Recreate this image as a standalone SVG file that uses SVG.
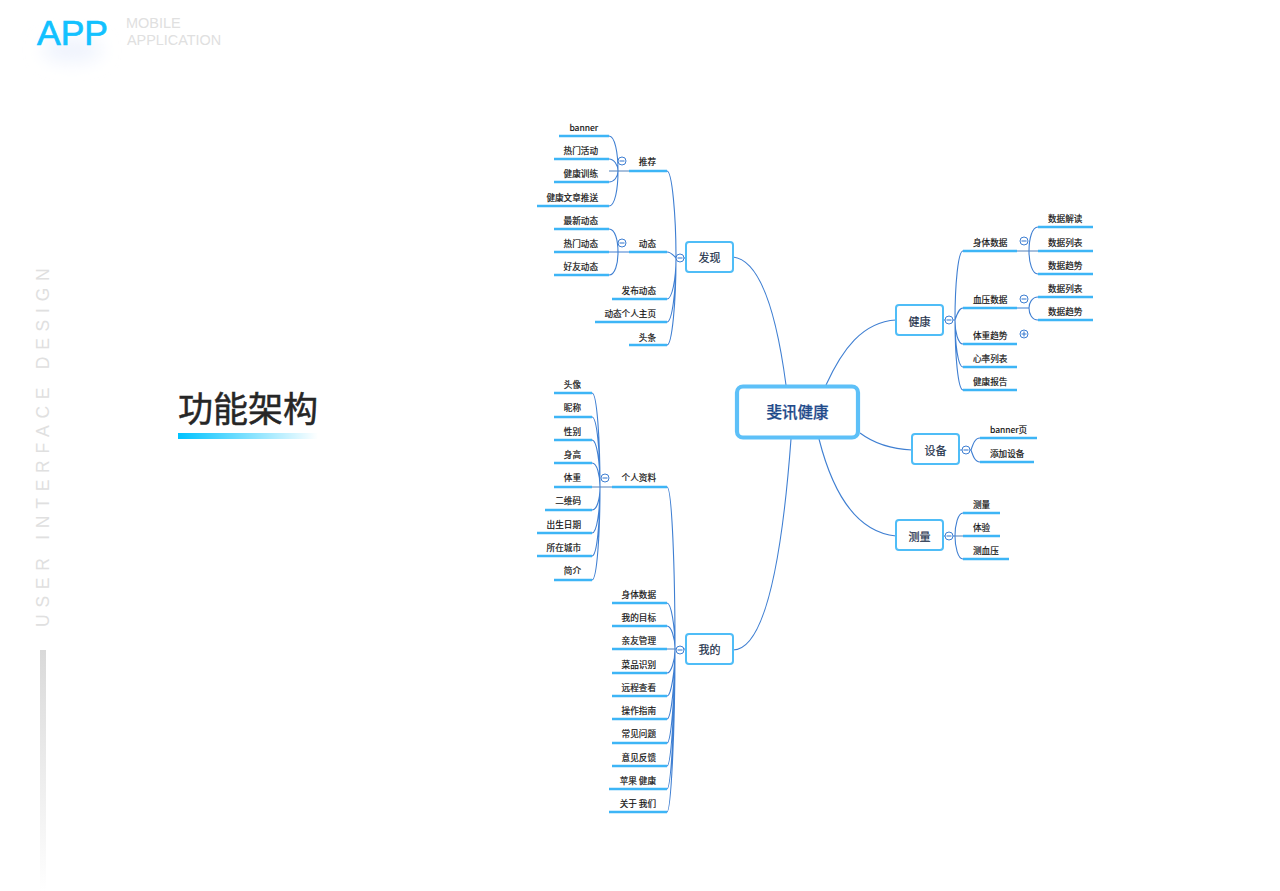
<svg xmlns="http://www.w3.org/2000/svg" width="1280" height="891" viewBox="0 0 1280 891">
<style>
text{font-family:"Noto Sans CJK SC","Noto Sans",sans-serif}
.l text{font-size:8.6px;fill:#111;stroke:#111;stroke-width:.18;transform:translateY(.2px)}
.e{text-anchor:end}
.u{stroke:#3db5f6;stroke-width:2.300;fill:none}
.c{stroke:#3f7fd2;stroke-width:1.100;fill:none}
.g{stroke:#a7bfdc;stroke-width:2;fill:none}
.t{stroke:#3f7fd2;stroke-width:1;fill:#fff}
.n{fill:#fff;stroke:#4fbdf7;stroke-width:2}
.nt{font-size:11px;fill:#1c2f4a;stroke:#1c2f4a;stroke-width:.2;text-anchor:middle}
.en{font-family:"Liberation Sans",sans-serif;fill:#e0e0e0}
</style>
<defs>
<linearGradient id="tb"><stop offset="0" stop-color="#00c3ff"/><stop offset="1" stop-color="#00c3ff" stop-opacity="0"/></linearGradient>
<linearGradient id="vb" x1="0" y1="0" x2="0" y2="1"><stop offset="0" stop-color="#d9d9d9"/><stop offset="1" stop-color="#fff"/></linearGradient>
<filter id="bl" x="-60%" y="-80%" width="220%" height="260%"><feGaussianBlur stdDeviation="9"/></filter>
</defs>
<g id="header">
<ellipse cx="72" cy="50" rx="30" ry="12" fill="#eef3fd" filter="url(#bl)"/>
<text x="37" y="45" style="font-family:'Liberation Sans',sans-serif;font-size:35.500px;fill:#12c1ff;stroke:#12c1ff;stroke-width:.7">APP</text>
<text class="en" x="126" y="28" font-size="14.500">MOBILE</text>
<text class="en" x="127" y="45" font-size="14.400">APPLICATION</text>
</g>
<g id="sidebar">
<text class="en" transform="translate(49,627) rotate(-90)" font-size="17.500" letter-spacing="6.750">USER INTERFACE DESIGN</text>
<rect x="40" y="650" width="6" height="241" fill="url(#vb)"/>
</g>
<g id="title">
<text x="178" y="422" style="font-size:35px;fill:#262626;stroke:#262626;stroke-width:.5">功能架构</text>
<rect x="178" y="433" width="140" height="6" fill="url(#tb)"/>
</g>
<g id="connectors">
<path class="c" d="M733 257C760 260 776 310 786 385"/>
<path class="c" d="M896 320C862 322 842 350 826 385"/>
<path class="c" d="M912 450C890 449 872 442 860 433"/>
<path class="c" d="M896 536C855 532 832 490 819 439"/>
<path class="c" d="M733 650C765 650 782 560 791 439"/>
<path class="g" d="M609 171H629M1017 251H1038M591 487H612M655 649H675M955 536H963"/>
<path class="c" d="M609 136C615 136 618 153 618 171M609 159C614 159 618 165 618 171M609 182C614 182 618 177 618 171M609 206C615 206 618 189 618 171"/>
<path class="c" d="M609 229C615 229 618 240 618 252M609 252H629M609 275C615 275 618 264 618 252"/>
<path class="c" d="M667 171C672 171 676 215 676 258M667 252C671 252 673 255 676 258M667 299C672 299 676 280 676 258M667 322C672 322 676 292 676 258M667 345C672 345 676 303 676 258"/>
<path class="c" d="M592 393C597 393 600 440 600 487M592 417C597 417 600 452 600 487M592 440C597 440 600 463 600 487M592 463C597 463 600 475 600 487M592 510C597 510 600 499 600 487M592 533C597 533 600 510 600 487M592 556C597 556 600 522 600 487M592 580C597 580 600 533 600 487"/>
<path class="c" d="M667 487C672 487 675 570 675 649M667 603C671 603 675 625 675 649M667 626C671 626 675 637 675 649M667 673C671 673 675 661 675 649M667 696C671 696 675 672 675 649M667 719C671 719 675 684 675 649M667 743C671 743 675 696 675 649M667 766C671 766 675 707 675 649M667 789C671 789 675 719 675 649M667 812C671 812 675 730 675 649"/>
<path class="c" d="M963 251C958 251 955 285 955 320M963 308C959 308 957 314 955 320M963 344C958 344 955 332 955 320M963 367C958 367 955 344 955 320M963 390C958 390 955 355 955 320"/>
<path class="c" d="M1038 227C1032 227 1029 239 1029 251M1038 274C1032 274 1029 262 1029 251M1038 297C1032 297 1029 303 1029 308M1038 320C1032 320 1029 314 1029 308M1017 308H1029"/>
<path class="c" d="M980 438C975 438 973 444 971 450M980 462C975 462 973 456 971 450"/>
<path class="c" d="M963 513C958 513 955 525 955 536M963 559C958 559 955 547 955 536"/>
<path class="c" d="M943 320H955M959 450H971M943 536H955M676 258H686M675 649H685"/>
</g>
<g id="root"><rect x="737" y="386.500" width="121" height="51" rx="6" fill="#fff" stroke="#5dc0f8" stroke-width="4.200"/><text x="797.500" y="418" style="font-size:15.500px;fill:#1f4a8a;stroke:#1f4a8a;stroke-width:.25;text-anchor:middle;font-weight:500">斐讯健康</text></g>
<g id="n-faxian"><rect class="n" x="686" y="242" width="47" height="30" rx="3"/><text class="nt" x="709.500" y="262">发现</text><circle class="t" cx="680" cy="258" r="4"/><path class="c" d="M677.500 258H682.500"/></g>
<g id="n-wode"><rect class="n" x="686" y="634" width="47" height="30" rx="3"/><text class="nt" x="709.500" y="654">我的</text><circle class="t" cx="680" cy="650" r="4"/><path class="c" d="M677.500 650H682.500"/></g>
<g id="n-jiankang"><rect class="n" x="896" y="305" width="47" height="30" rx="3"/><text class="nt" x="919.500" y="326">健康</text><circle class="t" cx="949" cy="320" r="4"/><path class="c" d="M946.500 320H951.500"/></g>
<g id="n-shebei"><rect class="n" x="912" y="434" width="47" height="30" rx="3"/><text class="nt" x="935.500" y="455">设备</text><circle class="t" cx="966" cy="450" r="4"/><path class="c" d="M963.500 450H968.500"/></g>
<g id="n-celiang"><rect class="n" x="896" y="520" width="47" height="30" rx="3"/><text class="nt" x="919.500" y="541">测量</text><circle class="t" cx="949" cy="536" r="4"/><path class="c" d="M946.500 536H951.500"/></g>
<g id="n-tuijian" class="l"><path class="u" d="M629 171H667"/><text class="e" x="656" y="165">推荐</text><circle class="t" cx="622" cy="161" r="4"/><path class="c" d="M619.500 161H624.500"/></g>
<g id="n-dongtai" class="l"><path class="u" d="M629 252H667"/><text class="e" x="656" y="247">动态</text><circle class="t" cx="622" cy="243" r="4"/><path class="c" d="M619.500 243H624.500"/></g>
<g id="n-fabu" class="l"><path class="u" d="M612 299H667"/><text class="e" x="656" y="294">发布动态</text></g>
<g id="n-zhuye" class="l"><path class="u" d="M595 322H667"/><text class="e" x="656" y="317">动态个人主页</text></g>
<g id="n-toutiao" class="l"><path class="u" d="M629 345H667"/><text class="e" x="656" y="341">头条</text></g>
<g id="n-banner" class="l"><path class="u" d="M559 136H609"/><text class="e" x="598" y="131">banner</text></g>
<g id="n-rmhd" class="l"><path class="u" d="M554 159H609"/><text class="e" x="598" y="154">热门活动</text></g>
<g id="n-jkxl" class="l"><path class="u" d="M554 182H609"/><text class="e" x="598" y="177">健康训练</text></g>
<g id="n-wzts" class="l"><path class="u" d="M537 206H609"/><text class="e" x="598" y="201">健康文章推送</text></g>
<g id="n-zxdt" class="l"><path class="u" d="M554 229H609"/><text class="e" x="598" y="224">最新动态</text></g>
<g id="n-rmdt" class="l"><path class="u" d="M554 252H609"/><text class="e" x="598" y="247">热门动态</text></g>
<g id="n-hydt" class="l"><path class="u" d="M554 275H609"/><text class="e" x="598" y="270">好友动态</text></g>
<g id="n-grzl" class="l"><path class="u" d="M612 487H667"/><text class="e" x="656" y="481">个人资料</text><circle class="t" cx="605" cy="478" r="4"/><path class="c" d="M602.500 478H607.500"/></g>
<g id="n-tx" class="l"><path class="u" d="M554 393H592"/><text class="e" x="581" y="388">头像</text></g>
<g id="n-nc" class="l"><path class="u" d="M554 417H592"/><text class="e" x="581" y="411">昵称</text></g>
<g id="n-xb" class="l"><path class="u" d="M554 440H592"/><text class="e" x="581" y="435">性别</text></g>
<g id="n-sg" class="l"><path class="u" d="M554 463H592"/><text class="e" x="581" y="458">身高</text></g>
<g id="n-tz" class="l"><path class="u" d="M554 487H592"/><text class="e" x="581" y="481">体重</text></g>
<g id="n-ewm" class="l"><path class="u" d="M545 510H592"/><text class="e" x="581" y="504">二维码</text></g>
<g id="n-csrq" class="l"><path class="u" d="M537 533H592"/><text class="e" x="581" y="528">出生日期</text></g>
<g id="n-szcs" class="l"><path class="u" d="M537 556H592"/><text class="e" x="581" y="551">所在城市</text></g>
<g id="n-jj" class="l"><path class="u" d="M554 580H592"/><text class="e" x="581" y="574">简介</text></g>
<g id="n-stsj" class="l"><path class="u" d="M612 603H667"/><text class="e" x="656" y="598">身体数据</text></g>
<g id="n-wdmb" class="l"><path class="u" d="M612 626H667"/><text class="e" x="656" y="621">我的目标</text></g>
<g id="n-qygl" class="l"><path class="u" d="M612 649H667"/><text class="e" x="656" y="644">亲友管理</text></g>
<g id="n-cpsb" class="l"><path class="u" d="M612 673H667"/><text class="e" x="656" y="668">菜品识别</text></g>
<g id="n-ycck" class="l"><path class="u" d="M612 696H667"/><text class="e" x="656" y="691">远程查看</text></g>
<g id="n-czzn" class="l"><path class="u" d="M612 719H667"/><text class="e" x="656" y="714">操作指南</text></g>
<g id="n-cjwt" class="l"><path class="u" d="M612 743H667"/><text class="e" x="656" y="737">常见问题</text></g>
<g id="n-yjfk" class="l"><path class="u" d="M612 766H667"/><text class="e" x="656" y="761">意见反馈</text></g>
<g id="n-pgjk" class="l"><path class="u" d="M609 789H667"/><text class="e" x="656" y="784">苹果 健康</text></g>
<g id="n-gywm" class="l"><path class="u" d="M609 812H667"/><text class="e" x="656" y="807">关于 我们</text></g>
<g id="n-stsj2" class="l"><path class="u" d="M963 251H1017"/><text x="973" y="245.500">身体数据</text><circle class="t" cx="1024" cy="241" r="4"/><path class="c" d="M1021.500 241H1026.500"/></g>
<g id="n-xysj" class="l"><path class="u" d="M963 308H1017"/><text x="973" y="303">血压数据</text><circle class="t" cx="1024" cy="299" r="4"/><path class="c" d="M1021.500 299H1026.500"/></g>
<g id="n-tzqs" class="l"><path class="u" d="M963 344H1017"/><text x="973" y="338.500">体重趋势</text><circle class="t" cx="1024" cy="334" r="4"/><path class="c" d="M1021.500 334H1026.500M1024 331.500V336.500"/></g>
<g id="n-xllb" class="l"><path class="u" d="M963 367H1017"/><text x="973" y="362">心率列表</text></g>
<g id="n-jkbg" class="l"><path class="u" d="M963 390H1017"/><text x="973" y="385">健康报告</text></g>
<g id="n-sjjd" class="l"><path class="u" d="M1038 227H1093"/><text x="1048" y="222">数据解读</text></g>
<g id="n-sjlb" class="l"><path class="u" d="M1038 251H1093"/><text x="1048" y="245.500">数据列表</text></g>
<g id="n-sjqs" class="l"><path class="u" d="M1038 274H1093"/><text x="1048" y="269">数据趋势</text></g>
<g id="n-sjlb2" class="l"><path class="u" d="M1038 297H1093"/><text x="1048" y="292">数据列表</text></g>
<g id="n-sjqs2" class="l"><path class="u" d="M1038 320H1093"/><text x="1048" y="315">数据趋势</text></g>
<g id="n-bannerye" class="l"><path class="u" d="M980 438H1037"/><text x="990" y="433">banner页</text></g>
<g id="n-tjsb" class="l"><path class="u" d="M980 462H1034"/><text x="990" y="457">添加设备</text></g>
<g id="n-cl" class="l"><path class="u" d="M963 513H1000"/><text x="973" y="507.500">测量</text></g>
<g id="n-ty" class="l"><path class="u" d="M963 536H1000"/><text x="973" y="530.500">体验</text></g>
<g id="n-cxy" class="l"><path class="u" d="M963 559H1009"/><text x="973" y="554">测血压</text></g>
</svg>
